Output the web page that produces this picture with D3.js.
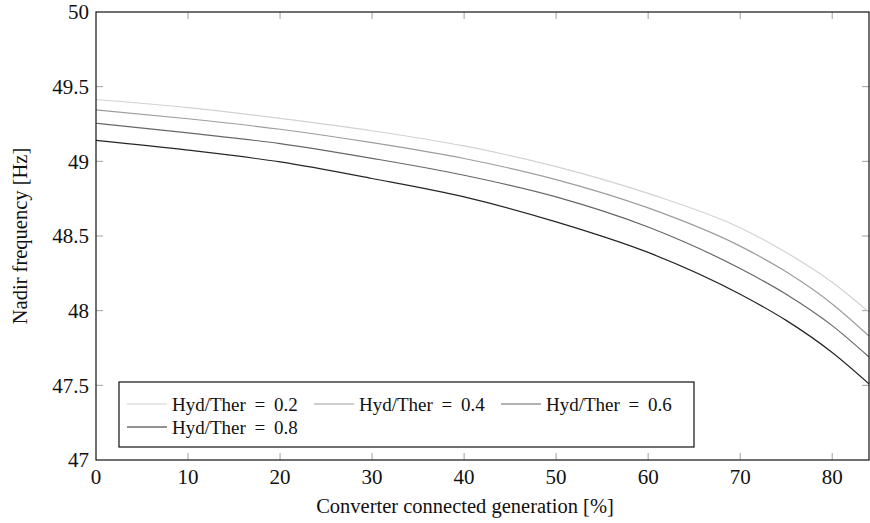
<!DOCTYPE html>
<html>
<head>
<meta charset="utf-8">
<script src="https://cdn.jsdelivr.net/npm/d3@7"></script>
<style>
  body { margin: 0; background: #fff; }
  svg { display: block; font-family: "Liberation Serif", "DejaVu Serif", serif; }
</style>
</head>
<body>
<svg id="chart" width="870" height="523"></svg>
<script>
// Nadir frequency vs converter connected generation, one curve per Hyd/Ther ratio.

var share = [0, 10, 20, 30, 40, 50, 60, 70, 75, 80, 84];
var hyd02 = [49.414, 49.360, 49.288, 49.205, 49.103, 48.965, 48.785, 48.555, 48.390, 48.190, 47.990];
var hyd04 = [49.344, 49.285, 49.215, 49.125, 49.019, 48.878, 48.688, 48.432, 48.260, 48.045, 47.830];
var hyd06 = [49.255, 49.190, 49.119, 49.020, 48.907, 48.762, 48.560, 48.282, 48.110, 47.900, 47.690];
var hyd08 = [49.140, 49.075, 48.996, 48.885, 48.762, 48.595, 48.390, 48.110, 47.935, 47.720, 47.510];

var seriesNames = ["Hyd/Ther = 0.2", "Hyd/Ther = 0.4", "Hyd/Ther = 0.6", "Hyd/Ther = 0.8"];
var seriesColors = ["#d2d2d2", "#9d9d9d", "#676767", "#262626"];
var xTicks = [0, 10, 20, 30, 40, 50, 60, 70, 80];
var yTicks = [47, 47.5, 48, 48.5, 49, 49.5, 50];

(function () {
    var series = [hyd02, hyd04, hyd06, hyd08].map(function (vals, i) {
        return {
            name: seriesNames[i],
            color: seriesColors[i],
            points: share.map(function (x, j) { return [x, vals[j]]; })
        };
    });

    // Plot box in pixels (note: "top" is a reserved global in browsers).
    var pl = 96, pt = 12, pr = 869, pb = 460;
    var svg = d3.select("#chart");

    var x = d3.scaleLinear().domain([0, 84]).range([pl, pr]);
    var y = d3.scaleLinear().domain([47, 50]).range([pb, pt]);

    var tickLen = 7;

    // Ticks go inside the frame, on all four sides.
    var g = svg.append("g");
    xTicks.forEach(function (t) {
        if (t === 0) return;
        g.append("line").attr("x1", x(t)).attr("x2", x(t)).attr("y1", pb).attr("y2", pb - tickLen)
            .attr("stroke", "#a0a0a0");
        g.append("line").attr("x1", x(t)).attr("x2", x(t)).attr("y1", pt).attr("y2", pt + tickLen)
            .attr("stroke", "#a0a0a0");
    });
    yTicks.forEach(function (t) {
        if (t === 47 || t === 50) return;
        g.append("line").attr("x1", pl).attr("x2", pl + tickLen).attr("y1", y(t)).attr("y2", y(t))
            .attr("stroke", "#a0a0a0");
        g.append("line").attr("x1", pr).attr("x2", pr - tickLen).attr("y1", y(t)).attr("y2", y(t))
            .attr("stroke", "#a0a0a0");
    });

    // Tick labels.
    svg.append("g").selectAll("text").data(xTicks).join("text")
        .attr("x", function (d) { return x(d); })
        .attr("y", pb + 24)
        .attr("text-anchor", "middle")
        .attr("font-size", 21)
        .attr("fill", "#111")
        .text(function (d) { return d; });

    svg.append("g").selectAll("text").data(yTicks).join("text")
        .attr("x", pl - 7)
        .attr("y", function (d) { return y(d); })
        .attr("dy", "0.35em")
        .attr("text-anchor", "end")
        .attr("font-size", 21)
        .attr("fill", "#111")
        .text(function (d) { return d; });

    // Curves: monotoneX copes with the uneven x spacing near the end.
    var line = d3.line()
        .x(function (d) { return x(d[0]); })
        .y(function (d) { return y(d[1]); })
        .curve(d3.curveMonotoneX);

    svg.append("g").selectAll("path").data(series).join("path")
        .attr("d", function (d) { return line(d.points); })
        .attr("fill", "none")
        .attr("stroke", function (d) { return d.color; })
        .attr("stroke-width", 1.2);

    // Frame.
    svg.append("rect")
        .attr("x", pl).attr("y", pt)
        .attr("width", pr - pl).attr("height", pb - pt)
        .attr("fill", "none").attr("stroke", "#111").attr("stroke-width", 1.2);

    // Axis titles.
    svg.append("text")
        .attr("x", 465)
        .attr("y", 513)
        .attr("text-anchor", "middle")
        .attr("font-size", 20.5)
        .attr("fill", "#111")
        .text("Converter connected generation [%]");

    svg.append("text")
        .attr("transform", "translate(27," + ((pt + pb) / 2) + ") rotate(-90)")
        .attr("text-anchor", "middle")
        .attr("font-size", 20.5)
        .attr("fill", "#111")
        .text("Nadir frequency [Hz]");

    // Legend: three entries on the first row, one on the second.
    var legend = svg.append("g");
    legend.append("rect")
        .attr("x", 119).attr("y", 382).attr("width", 575).attr("height", 65)
        .attr("fill", "#fff").attr("stroke", "#111").attr("stroke-width", 1.2);

    var colX = [127, 314, 501];
    var rowY = [404, 427];
    series.forEach(function (s, i) {
        var cx = colX[i % 3], cy = rowY[Math.floor(i / 3)];
        legend.append("line")
            .attr("x1", cx).attr("x2", cx + 40).attr("y1", cy).attr("y2", cy)
            .attr("stroke", s.color).attr("stroke-width", 1.2);
        legend.append("text")
            .attr("x", cx + 45).attr("y", cy).attr("dy", "0.35em")
            .attr("font-size", 19)
            .attr("word-spacing", 4)
            .attr("fill", "#111")
            .text(s.name);
    });
})();
</script>
</body>
</html>
